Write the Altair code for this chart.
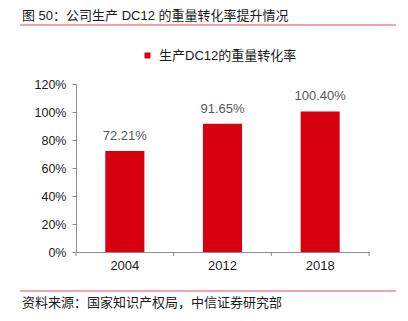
import altair as alt
import pandas as pd

years = ["2004", "2012", "2018"]
values = [72.21, 91.65, 100.40]
value_labels = ["72.21%", "91.65%", "100.40%"]
series_name = "生产DC12的重量转化率"
title_text = "图 50：公司生产 DC12 的重量转化率提升情况"
source_text = "资料来源：国家知识产权局，中信证券研究部"
y_ticks = [0, 20, 40, 60, 80, 100, 120]
boundaries = [0, 1, 2, 3]

FONT = "Liberation Sans, Arial, Noto Sans CJK SC"
RED = "#D7000F"
LINE = "#E58A8A"

df = pd.DataFrame({"year": years, "value": values, "label": value_labels, "series": series_name})
bdf = pd.DataFrame({"b": boundaries})

W, H = 293, 168

xscale = alt.Scale(domain=years, paddingInner=0.6, paddingOuter=0.3)
yscale = alt.Scale(domain=[0, 120], nice=False)

x = alt.X("year:N", sort=years, title=None, scale=xscale,
          axis=alt.Axis(labelAngle=0, labelFontSize=13, labelColor="#1a1a1a", labelFont=FONT,
                        domainColor="#8c8c8c", ticks=False, labelPadding=7, grid=False))
yaxis = alt.Axis(values=y_ticks, labelExpr="datum.value + '%'", labelFontSize=12.5,
                 labelColor="#1a1a1a", labelFont=FONT, domainColor="#8c8c8c",
                 tickColor="#8c8c8c", tickSize=4, labelPadding=6, grid=False,
                 labelOverlap=False)
y = alt.Y("value:Q", title=None, scale=yscale, axis=yaxis)

bars = alt.Chart(df).mark_bar().encode(
    x=x, y=y,
    color=alt.Color("series:N", scale=alt.Scale(range=[RED]),
                    legend=alt.Legend(title=None, orient="none", legendX=65, legendY=-35,
                                      symbolType="square", symbolSize=36, labelFontSize=13,
                                      labelFont=FONT, labelColor="#1a1a1a", labelOffset=5,
                                      symbolStrokeWidth=0)),
)

text = alt.Chart(df).mark_text(baseline="bottom", dy=-8, fontSize=13, color="#595959", font=FONT).encode(
    x=alt.X("year:N", sort=years, scale=xscale, axis=None),
    y=alt.Y("value:Q", title=None, scale=yscale, axis=yaxis),
    text="label:N",
)

ticks = alt.Chart(bdf).mark_rule(color="#8c8c8c").encode(
    x=alt.X("b:Q", scale=alt.Scale(domain=[0, 3], nice=False), axis=None),
    y=alt.value(H), y2=alt.value(H + 4),
)

title = alt.Chart(pd.DataFrame({"t": [title_text]})).mark_text(
    align="left", baseline="middle", fontSize=13, color="#1a1a1a", font=FONT
).encode(x=alt.value(-54), y=alt.value(-68), text="t:N")

source = alt.Chart(pd.DataFrame({"t": [source_text]})).mark_text(
    align="left", baseline="middle", fontSize=13, color="#1a1a1a", font=FONT
).encode(x=alt.value(-54), y=alt.value(219), text="t:N")

line_top = alt.Chart(pd.DataFrame({"a": [0]})).mark_rule(color=LINE, strokeWidth=1.5).encode(
    x=alt.value(-56), x2=alt.value(320), y=alt.value(-59))
line_bot = alt.Chart(pd.DataFrame({"a": [0]})).mark_rule(color=LINE, strokeWidth=1.5).encode(
    x=alt.value(-56), x2=alt.value(320), y=alt.value(207))

chart = alt.layer(bars, text, ticks, title, source, line_top, line_bot).resolve_scale(
    x="independent"
).properties(
    width=W, height=H,
    autosize=alt.AutoSizeParams(type="none"),
    padding={"left": 76, "top": 84, "right": 39, "bottom": 69},
    background="white",
).configure_view(stroke=None)

chart.save("out.html", embed_options={"renderer": "svg", "actions": False})
